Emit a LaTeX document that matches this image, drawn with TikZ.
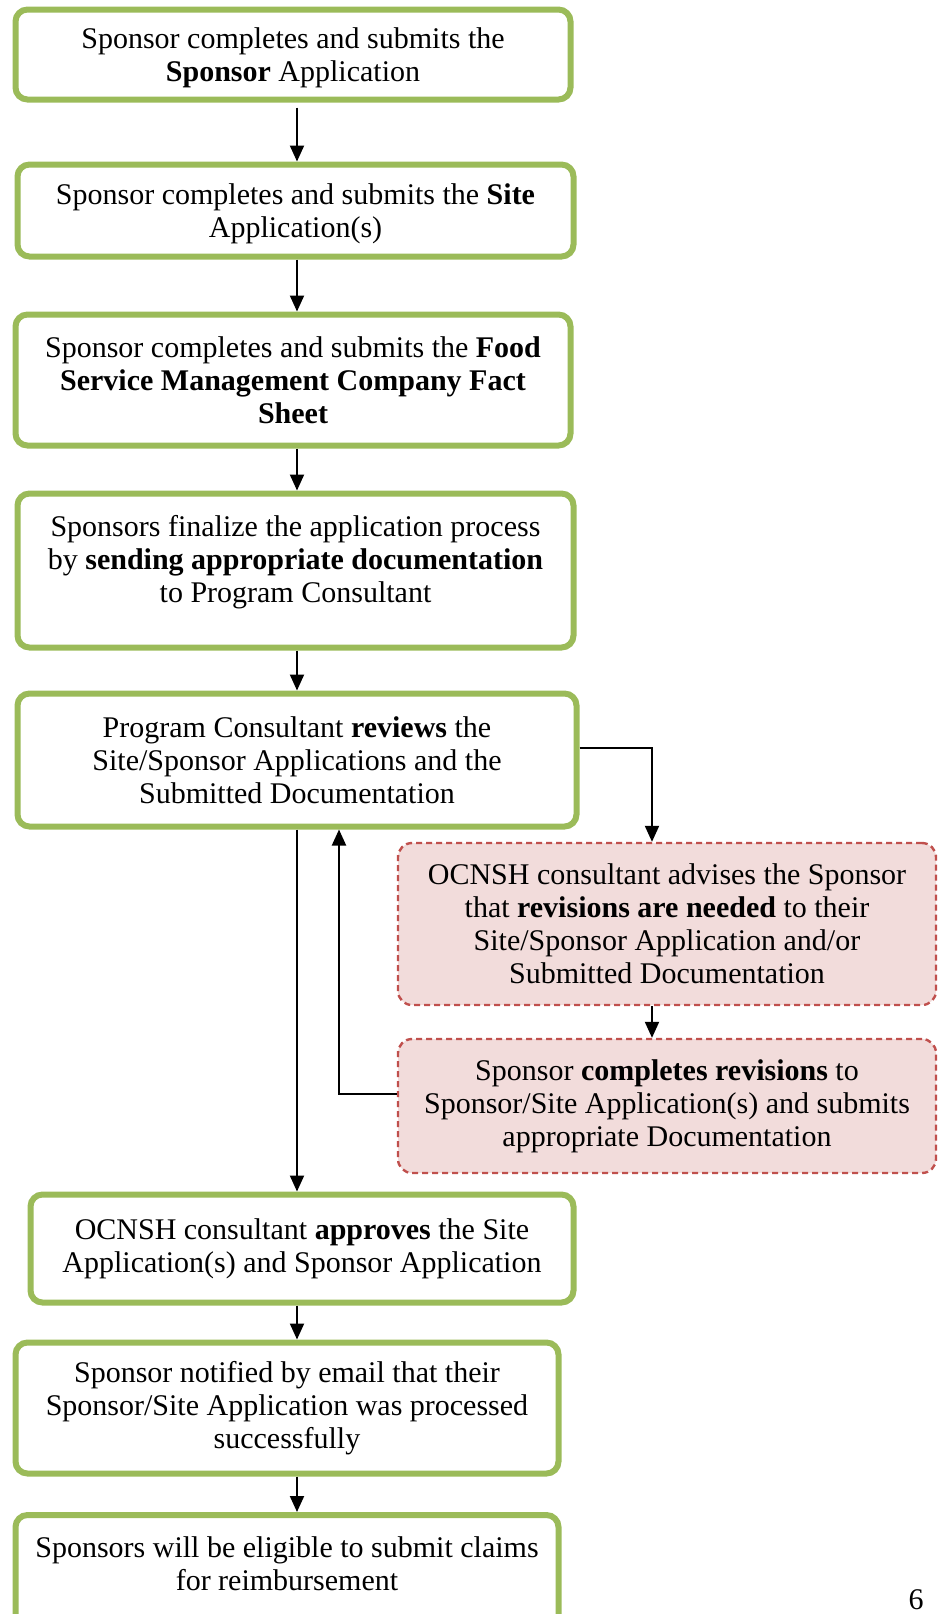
\documentclass[tikz,border=0pt]{standalone}
\usepackage{fontspec}
\setmainfont{Liberation Serif}
\usetikzlibrary{arrows.meta}
\definecolor{boxgreen}{HTML}{9BBB59}
\definecolor{revred}{HTML}{C0504D}
\definecolor{revfill}{HTML}{F2DCDB}

\begin{document}
\begin{tikzpicture}[x=0.5pt, y=-0.5pt,
step_style/.style={draw=boxgreen, line width=3pt, rounded corners=6pt, fill=white, align=center, inner sep=0pt, font=\fontsize{15}{16.5}\selectfont},
rev_style/.style={draw=revred, fill=revfill, line width=1.2pt, dash pattern=on 3pt off 2pt, rounded corners=7pt, align=center, inner sep=0pt, font=\fontsize{15}{16.5}\selectfont},
arrow_style/.style={draw=black, line width=1pt, -{Triangle[length=8pt,width=7pt]}}]
\useasboundingbox (0,0) rectangle (938,1614);
\clip (0,0) rectangle (938,1614);

\node[step_style, minimum width=277.5pt, minimum height=45pt, text depth=-5pt] (sponsorapp) at (293,54.5) {Sponsor completes and submits the\\\textbf{Sponsor} Application};
\node[step_style, minimum width=278pt, minimum height=46pt, text depth=-3pt] (siteapp) at (295.5,210.5) {Sponsor completes and submits the \textbf{Site}\\Application(s)};
\node[step_style, minimum width=277.5pt, minimum height=65.5pt] (fsmc) at (293,380) {Sponsor completes and submits the \textbf{Food}\\\textbf{Service Management Company Fact}\\\textbf{Sheet}};
\node[step_style, minimum width=278pt, minimum height=77pt, text depth=12pt] (finalize) at (295.5,570.5) {Sponsors finalize the application process\\by \textbf{sending appropriate documentation}\\to Program Consultant};
\node[step_style, minimum width=279.5pt, minimum height=66.5pt] (review) at (297,760) {Program Consultant \textbf{reviews} the\\Site/Sponsor Applications and the\\Submitted Documentation};
\node[rev_style, minimum width=269pt, minimum height=81pt] (advise) at (667,924) {OCNSH consultant advises the Sponsor\\that \textbf{revisions are needed} to their\\Site/Sponsor Application and/or\\Submitted Documentation};
\node[rev_style, minimum width=269pt, minimum height=67pt] (revise) at (667,1106) {Sponsor \textbf{completes revisions} to\\Sponsor/Site Application(s) and submits\\appropriate Documentation};
\node[step_style, minimum width=271.5pt, minimum height=54pt] (approve) at (302,1248.5) {OCNSH consultant \textbf{approves} the Site\\Application(s) and Sponsor Application};
\node[step_style, minimum width=271.5pt, minimum height=65.5pt] (notify) at (287,1408) {Sponsor notified by email that their\\Sponsor/Site Application was processed\\successfully};
\node[step_style, minimum width=271.5pt, minimum height=62.5pt, text depth=13.5pt] (claims) at (287,1577.5) {Sponsors will be eligible to submit claims\\for reimbursement};
\node[font=\fontsize{15}{16.5}\selectfont, inner sep=0pt, anchor=base] (pagenum) at (916,1609) {6};

\coordinate (spine) at (297,0);
\coordinate (outturn) at (652,748);
\coordinate (backturn) at (339,1094);

\draw[arrow_style, shorten <=2.5pt] (sponsorapp.south -| spine) -- (siteapp.north -| spine);
\draw[arrow_style] (siteapp.south -| spine) -- (fsmc.north -| spine);
\draw[arrow_style] (fsmc.south -| spine) -- (finalize.north -| spine);
\draw[arrow_style] (finalize.south -| spine) -- (review.north -| spine);
\draw[arrow_style] (review.south -| spine) -- (approve.north -| spine);
\draw[arrow_style] (approve.south -| spine) -- (notify.north -| spine);
\draw[arrow_style] (notify.south -| spine) -- (claims.north -| spine);

% revision loop
\draw[arrow_style] (review.east |- outturn) -| (advise.north -| outturn);
\draw[arrow_style] (advise.south -| outturn) -- (revise.north -| outturn);
\draw[arrow_style] (revise.west |- backturn) -| (review.south -| backturn);
\end{tikzpicture}
\end{document}
